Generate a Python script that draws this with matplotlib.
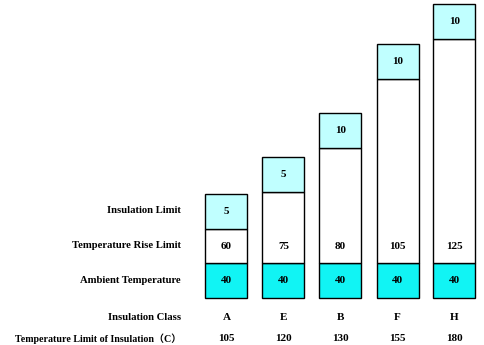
import matplotlib
matplotlib.use("Agg")
import matplotlib.pyplot as plt

# Data
classes = ["A", "E", "B", "F", "H"]
ambient = [40, 40, 40, 40, 40]
rise = [60, 75, 80, 105, 125]
insulation = [5, 5, 10, 10, 10]
limits = [105, 120, 130, 155, 180]
row_labels = ["Insulation Limit", "Temperature Rise Limit", "Ambient Temperature",
              "Insulation Class", "Temperature Limit of Insulation\uff08C\uff09"]
# Drawn (schematic, not to scale) segment heights, in box units
ambient_h = [1.0, 1.0, 1.0, 1.0, 1.0]
rise_h = [0.98, 2.03, 3.29, 5.26, 6.4]
insulation_h = [1.0, 1.0, 1.0, 1.0, 1.0]

fig = plt.figure(figsize=(4.85, 3.45), dpi=100)
ax = fig.add_axes([0, 0, 1, 1])
ax.set_xlim(-226.5 / 57, (485 - 226.5) / 57)
ax.set_ylim(-47 / 35, 298 / 35)
ax.axis("off")

fam = ["Liberation Serif", "Noto Sans CJK SC", "DejaVu Serif"]
x = list(range(len(classes)))
w = 42 / 57
ax.bar(x, ambient_h, width=w, color="#11f4f4", edgecolor="black", linewidth=1)
ax.bar(x, rise_h, width=w, bottom=ambient_h, color="white", edgecolor="black", linewidth=1)
tops = [a + r for a, r in zip(ambient_h, rise_h)]
ax.bar(x, insulation_h, width=w, bottom=tops, color="#c0ffff", edgecolor="black", linewidth=1)

fs = 8
for i in x:
    ax.text(i, ambient_h[i] / 2, str(ambient[i]), ha="center", va="center",
            fontsize=fs, fontweight="bold", family=fam)
    ax.text(i, ambient_h[i] + 0.46, str(rise[i]), ha="center", va="center",
            fontsize=fs, fontweight="bold", family=fam)
    ax.text(i, tops[i] + insulation_h[i] / 2, str(insulation[i]), ha="center", va="center",
            fontsize=fs, fontweight="bold", family=fam)
    ax.text(i, -0.57, classes[i], ha="center", va="center",
            fontsize=fs, fontweight="bold", family=fam)
    ax.text(i, -1.17, str(limits[i]), ha="center", va="center",
            fontsize=fs, fontweight="bold", family=fam)

lx = (181 - 226.5) / 57
ypos = [2.49, 1.49, 0.49, -0.57, -1.17]
sizes = [7.7, 7.7, 7.7, 7.7, 7.2]
for lab, yy, s in zip(row_labels, ypos, sizes):
    ax.text(lx, yy, lab, ha="right", va="center", fontsize=s,
            fontweight="bold", family=fam)

fig.savefig("out.png", dpi=100)
